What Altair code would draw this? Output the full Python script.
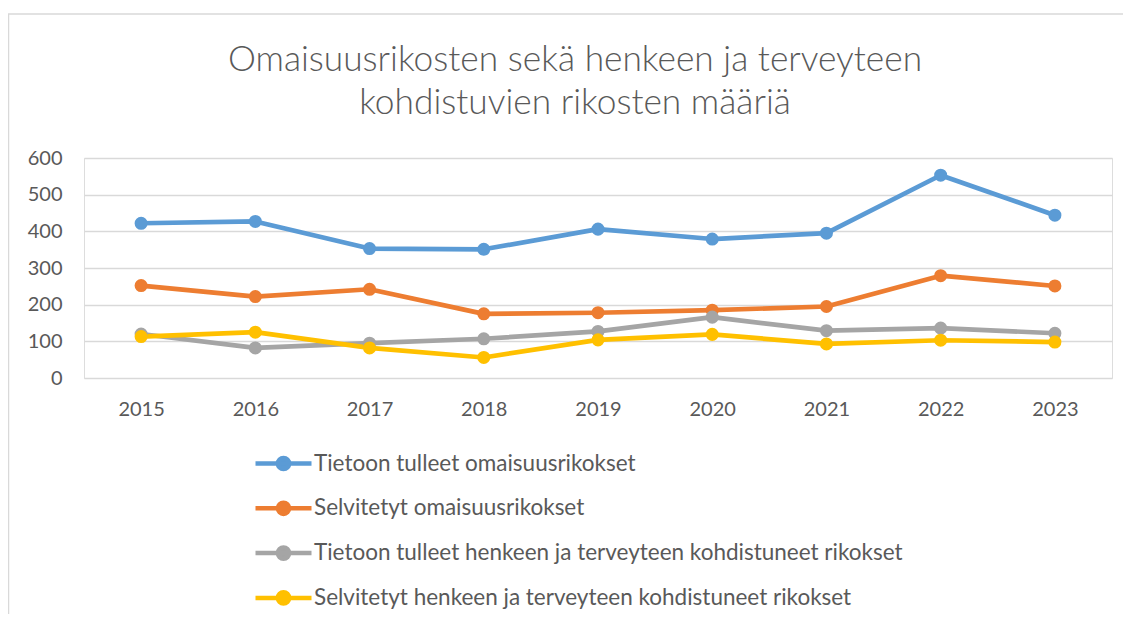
import altair as alt
import pandas as pd

title_lines = ["Omaisuusrikosten sekä henkeen ja terveyteen", "kohdistuvien rikosten määriä"]
years = ["2015", "2016", "2017", "2018", "2019", "2020", "2021", "2022", "2023"]
series_names = [
    "Tietoon tulleet omaisuusrikokset",
    "Selvitetyt omaisuusrikokset",
    "Tietoon tulleet henkeen ja terveyteen kohdistuneet rikokset",
    "Selvitetyt henkeen ja terveyteen kohdistuneet rikokset",
]
tietoon_omaisuus = [422, 427, 353, 351, 406, 379, 395, 553, 444]
selvitetyt_omaisuus = [252, 222, 242, 175, 178, 185, 195, 279, 251]
tietoon_henki = [120, 82, 95, 107, 127, 166, 129, 136, 122]
selvitetyt_henki = [113, 125, 82, 56, 104, 119, 93, 103, 98]
colors = ["#5B9BD5", "#ED7D31", "#A5A5A5", "#FFC000"]
y_ticks = [0, 100, 200, 300, 400, 500, 600]

rows = []
for name, vals in zip(series_names, [tietoon_omaisuus, selvitetyt_omaisuus, tietoon_henki, selvitetyt_henki]):
    for yr, v in zip(years, vals):
        rows.append({"Vuosi": yr, "Sarja": name, "Arvo": v})
df = pd.DataFrame(rows)

FONT = "Lato"
TXT = "#595959"
GRID = "#D9D9D9"

legend = alt.Legend(
    title=None,
    orient="none",
    legendX=183,
    legendY=289,
    direction="vertical",
    symbolType="M-2,0L2,0M-0.4,0A0.4,0.4 0 1,1 0.4,0A0.4,0.4 0 1,1 -0.4,0Z",
    symbolSize=784,
    symbolStrokeWidth=4.5,
    symbolOpacity=1,
    labelFont=FONT,
    labelFontSize=22.5,
    labelColor=TXT,
    labelOffset=14,
    labelLimit=900,
    rowPadding=12.8,
    padding=0,
)

scale = alt.Scale(domain=series_names, range=colors)

x = alt.X(
    "Vuosi:O",
    sort=years,
    scale=alt.Scale(type="point", padding=0.5),
    axis=alt.Axis(
        title=None,
        domain=False,
        ticks=False,
        grid=False,
        labelAngle=0,
        labelFont=FONT,
        labelFontSize=20,
        labelColor=TXT,
        labelPadding=21,
    ),
)
y = alt.Y(
    "Arvo:Q",
    scale=alt.Scale(domain=[0, 600], nice=False, zero=True),
    axis=alt.Axis(
        title=None,
        values=y_ticks,
        domain=False,
        ticks=False,
        grid=True,
        gridColor=GRID,
        gridWidth=1.6,
        labelFont=FONT,
        labelFontSize=20,
        labelColor=TXT,
        labelPadding=22,
    ),
)

base = alt.Chart(df)
lines = base.mark_line(strokeWidth=4.7, strokeCap="round", strokeJoin="round").encode(
    x=x, y=y,
    stroke=alt.Stroke("Sarja:N", scale=scale, sort=series_names, legend=legend),
    order=alt.Order("Vuosi:O"),
)
points = base.mark_circle(size=170, opacity=1).encode(
    x=x, y=y,
    fill=alt.Fill("Sarja:N", scale=scale, sort=series_names, legend=legend),
)

one = pd.DataFrame({"a": [0]})
border_top = alt.Chart(one).mark_rule(color=GRID, strokeWidth=1.5).encode(
    x=alt.value(-76), x2=alt.value(1040), y=alt.value(-144)
)
border_left = alt.Chart(one).mark_rule(color=GRID, strokeWidth=1.5).encode(
    x=alt.value(-75.5), y=alt.value(-144), y2=alt.value(470)
)
title = alt.Chart(one).mark_text(
    text=title_lines,
    font=FONT,
    fontSize=35.3,
    fontWeight=300,
    color=TXT,
    align="center",
    baseline="alphabetic",
    lineHeight=42.5,
).encode(x=alt.value(491), y=alt.value(-87))

chart = (
    alt.layer(border_top, border_left, title, lines, points)
    .properties(
        width=1028,
        height=220,
        autosize=alt.AutoSizeParams(type="none"),
        padding={"left": 76, "top": 150, "right": 11, "bottom": 236},
    )
    .configure_view(stroke=None)
    .configure(background="white")
)

chart.save("out.html", embed_options={"renderer": "svg", "actions": False})
